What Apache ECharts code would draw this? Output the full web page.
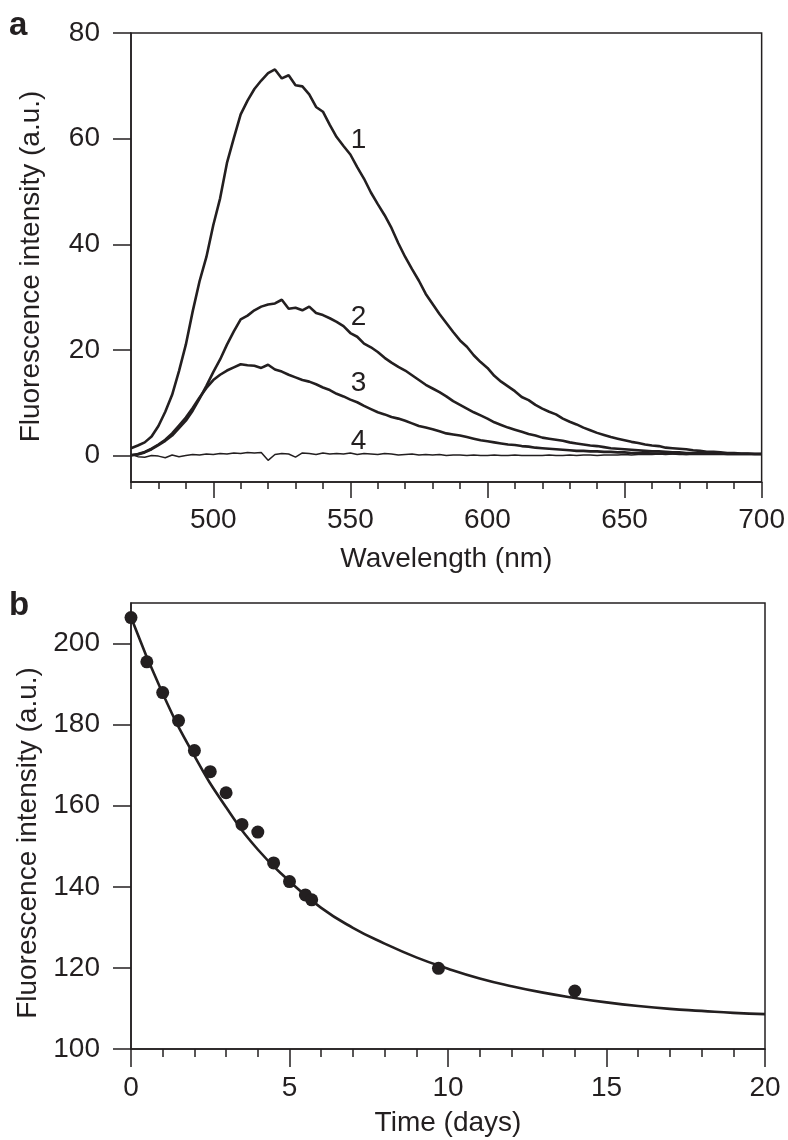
<!DOCTYPE html>
<html>
<head>
<meta charset="utf-8">
<script src="https://cdn.jsdelivr.net/npm/echarts@6/dist/echarts.min.js"></script>
<style>
html,body{margin:0;padding:0;background:#fff;}
#chart{width:788px;height:1140px;}
</style>
</head>
<body>
<div id="chart"></div>
<script>
// ---------- Panel a data ----------
var wavelengths = [
470,472.5,475,477.5,480,482.5,485,487.5,490,492.5,
495,497.5,500,502.5,505,507.5,510,512.5,515,517.5,
520,522.5,525,527.5,530,532.5,535,537.5,540,542.5,
545,547.5,550,552.5,555,557.5,560,562.5,565,567.5,
570,572.5,575,577.5,580,582.5,585,587.5,590,592.5,
595,597.5,600,602.5,605,607.5,610,612.5,615,617.5,
620,622.5,625,627.5,630,632.5,635,637.5,640,642.5,
645,647.5,650,652.5,655,657.5,660,662.5,665,667.5,
670,672.5,675,677.5,680,682.5,685,687.5,690,692.5,
695,697.5,700];
var curve1 = [
1.4,1.9,2.5,3.6,5.6,8.3,11.5,16.0,21.0,27.3,
33.0,37.6,43.6,48.7,55.4,60.1,64.6,67.2,69.4,71.0,
72.4,73.1,71.4,72.0,70.1,69.9,68.4,66.0,65.1,62.6,
60.3,58.6,57.0,54.6,52.4,49.8,47.6,45.5,43.1,40.2,
37.6,35.3,33.1,30.6,28.7,26.8,25.1,23.4,21.8,20.6,
19.0,17.7,16.6,15.1,14.0,13.1,12.2,11.1,10.5,9.6,
8.9,8.3,7.8,7.0,6.4,5.9,5.3,4.8,4.3,3.9,
3.5,3.2,2.9,2.6,2.4,2.1,1.9,1.8,1.5,1.4,
1.3,1.2,1.0,0.9,0.7,0.7,0.6,0.5,0.5,0.4,
0.4,0.3,0.3];
var curve2 = [
0.1,0.2,0.6,1.2,2.0,2.8,3.8,5.2,6.6,8.5,
10.8,13.2,15.8,18.2,21.0,23.5,25.8,26.5,27.5,28.2,
28.6,28.8,29.5,27.8,28.0,27.5,28.2,27.0,26.6,26.0,
25.3,24.5,23.2,22.5,21.2,20.5,19.6,18.5,17.6,16.8,
16.1,15.2,14.3,13.4,12.7,12.0,11.2,10.3,9.6,8.9,
8.2,7.6,7.0,6.3,5.8,5.3,4.9,4.5,4.1,3.8,
3.4,3.2,3.0,2.8,2.5,2.3,2.1,1.9,1.8,1.6,
1.4,1.3,1.2,1.1,1.0,0.9,0.8,0.8,0.7,0.6,
0.6,0.5,0.5,0.5,0.4,0.4,0.4,0.3,0.3,0.3,
0.3,0.3,0.3];
var curve3 = [
0.0,0.3,0.7,1.3,2.1,3.0,4.2,5.7,7.2,9.0,
11.0,12.8,14.3,15.3,16.1,16.7,17.3,17.1,17.0,16.6,
17.2,16.3,15.9,15.3,14.8,14.3,14.0,13.5,12.9,12.4,
11.7,11.2,10.6,10.1,9.4,8.8,8.2,7.8,7.3,7.0,
6.6,6.1,5.6,5.3,5.0,4.6,4.2,4.0,3.8,3.5,
3.2,2.9,2.7,2.5,2.3,2.1,2.0,1.8,1.7,1.5,
1.4,1.3,1.2,1.1,1.0,0.9,0.9,0.8,0.8,0.7,
0.7,0.6,0.6,0.5,0.5,0.5,0.4,0.4,0.4,0.4,
0.3,0.3,0.3,0.3,0.3,0.3,0.3,0.3,0.3,0.3,
0.3,0.3,0.3];
var curve4 = [
0.2,-0.2,-0.3,0.0,-0.1,-0.4,0.1,-0.2,0.0,0.2,
0.1,0.3,0.2,0.4,0.3,0.5,0.4,0.6,0.5,0.6,
-0.9,0.2,0.4,0.3,-0.3,0.5,0.4,0.2,0.5,0.3,
0.4,0.3,0.5,0.2,0.4,0.3,0.2,0.4,0.3,0.1,
0.2,0.3,0.1,0.2,0.1,0.2,0.0,0.1,0.1,0.0,
0.1,0.0,0.0,0.1,0.0,0.0,0.1,0.0,0.0,0.0,
0.0,0.1,0.0,0.0,0.1,0.0,0.1,0.1,0.0,0.1,
0.1,0.1,0.2,0.1,0.2,0.2,0.2,0.3,0.2,0.3,
0.3,0.2,0.3,0.3,0.3,0.3,0.3,0.3,0.3,0.3,
0.3,0.3,0.3];
var curveLabels = ['1','2','3','4'];
var curveLabelX = [553, 553, 553, 553];
var curveLabelY = [59.7, 26.1, 13.6, 2.7];
var aXTickLabels = [500, 550, 600, 650, 700];
var aYTickLabels = [0, 20, 40, 60, 80];

// ---------- Panel b data ----------
var days = [0, 0.5, 1, 1.5, 2, 2.5, 3, 3.5, 4, 4.5, 5, 5.5, 5.7, 9.7, 14];
var intensity = [206.4, 195.5, 187.9, 181.0, 173.6, 168.4, 163.2, 155.4, 153.5, 145.9, 141.3, 138.0, 136.8, 119.9, 114.3];
var fitDays = [0,1,2,3,4,5,6,7,8,9,10,11,12,13,14,15,16,17,18,19,20];
var fitValues = [206.5,187.7,172.3,159.6,149.2,141.4,134.8,129.9,126.0,122.6,119.8,117.4,115.5,113.9,112.6,111.5,110.6,109.9,109.4,108.9,108.6];
var bXTickLabels = [0, 5, 10, 15, 20];
var bYTickLabels = [100, 120, 140, 160, 180, 200];

// ---------- build ----------
function zip(xs, ys){ return xs.map(function(x,i){ return [x, ys[i]]; }); }
var INK = '#231f20';
var FONT = 'Liberation Sans, Arial, Helvetica, sans-serif';
var FS = 28;

var chart = echarts.init(document.getElementById('chart'), null, {renderer:'canvas'});

function lineSeries(data, w, xi, yi, smooth){
  return {type:'line', data:data, xAxisIndex:xi, yAxisIndex:yi, showSymbol:false, symbol:'none',
    smooth:!!smooth, lineStyle:{color:INK, width:w, opacity:1}, silent:true, animation:false, z:3};
}

var option = {
  backgroundColor:'#fff',
  animation:false,
  title:[
    {text:'a', left:4, top:4, textStyle:{fontFamily:FONT, fontWeight:'bold', fontSize:33, color:INK}},
    {text:'b', left:4, top:584, textStyle:{fontFamily:FONT, fontWeight:'bold', fontSize:33, color:INK}}
  ],
  grid:[
    {left:131, right:24, top:33, height:449, show:true, borderColor:INK, borderWidth:1.5, backgroundColor:'transparent'},
    {left:131, right:23, top:603, height:446, show:true, borderColor:INK, borderWidth:1.5, backgroundColor:'transparent'}
  ],
  xAxis:[
    {type:'value', gridIndex:0, position:'bottom', min:470, max:700, interval:10,
     name:'Wavelength (nm)', nameLocation:'middle', nameGap:63,
     nameTextStyle:{fontFamily:FONT, fontSize:FS, color:INK},
     axisLine:{show:true, onZero:false, lineStyle:{color:INK, width:1.5}},
     axisTick:{show:true, inside:false, length:7, lineStyle:{color:INK, width:1.5}},
     axisLabel:{show:true, customValues:aXTickLabels, margin:24, fontFamily:FONT, fontSize:FS, color:INK},
     splitLine:{show:false}},
    {type:'value', gridIndex:0, position:'bottom', offset:0, min:470, max:700, interval:10,
     axisLine:{show:false, onZero:false},
     axisTick:{show:true, inside:false, length:16, customValues:aXTickLabels, lineStyle:{color:INK, width:1.5}},
     axisLabel:{show:false}, splitLine:{show:false}},
    {type:'value', gridIndex:1, position:'bottom', min:0, max:20, interval:1,
     name:'Time (days)', nameLocation:'middle', nameGap:60,
     nameTextStyle:{fontFamily:FONT, fontSize:FS, color:INK},
     axisLine:{show:true, onZero:false, lineStyle:{color:INK, width:1.5}},
     axisTick:{show:true, inside:false, length:8, lineStyle:{color:INK, width:1.5}},
     axisLabel:{show:true, customValues:bXTickLabels, margin:25, fontFamily:FONT, fontSize:FS, color:INK},
     splitLine:{show:false}},
    {type:'value', gridIndex:1, position:'bottom', offset:0, min:0, max:20, interval:1,
     axisLine:{show:false, onZero:false},
     axisTick:{show:true, inside:false, length:18, customValues:bXTickLabels, lineStyle:{color:INK, width:1.5}},
     axisLabel:{show:false}, splitLine:{show:false}}
  ],
  yAxis:[
    {type:'value', gridIndex:0, position:'left', min:-5, max:80,
     name:'Fluorescence intensity (a.u.)', nameLocation:'middle', nameGap:86,
     nameTextStyle:{fontFamily:FONT, fontSize:FS, color:INK, padding:[0,18,0,0]},
     axisLine:{show:true, onZero:false, lineStyle:{color:INK, width:1.5}},
     axisTick:{show:true, inside:false, length:18, customValues:aYTickLabels, lineStyle:{color:INK, width:1.5}},
     axisLabel:{show:true, customValues:aYTickLabels, margin:31, fontFamily:FONT, fontSize:FS, color:INK},
     splitLine:{show:false}},
    {type:'value', gridIndex:1, position:'left', min:100, max:210,
     name:'Fluorescence intensity (a.u.)', nameLocation:'middle', nameGap:86,
     nameTextStyle:{fontFamily:FONT, fontSize:FS, color:INK, padding:[0,34,0,0]},
     axisLine:{show:true, onZero:false, lineStyle:{color:INK, width:1.5}},
     axisTick:{show:true, inside:false, length:18, customValues:bYTickLabels, lineStyle:{color:INK, width:1.5}},
     axisLabel:{show:true, customValues:bYTickLabels, margin:31, fontFamily:FONT, fontSize:FS, color:INK},
     splitLine:{show:false}}
  ],
  series:[
    lineSeries(zip(wavelengths, curve1), 2.6, 0, 0),
    lineSeries(zip(wavelengths, curve2), 2.6, 0, 0),
    lineSeries(zip(wavelengths, curve3), 2.6, 0, 0),
    lineSeries(zip(wavelengths, curve4), 1.5, 0, 0),
    {type:'scatter', xAxisIndex:0, yAxisIndex:0, symbolSize:0, silent:true, z:4,
     itemStyle:{opacity:1},
     data: curveLabels.map(function(t,i){ return {name:t, value:[curveLabelX[i], curveLabelY[i]]}; }),
     label:{show:true, position:'inside', formatter:'{b}', fontFamily:FONT, fontSize:FS, color:INK, opacity:1}},
    lineSeries(zip(fitDays, fitValues), 2.6, 2, 1, true),
    {type:'scatter', xAxisIndex:2, yAxisIndex:1, symbol:'circle', symbolSize:13, silent:true, z:5,
     itemStyle:{color:INK, opacity:1}, data: zip(days, intensity)}
  ]
};
chart.setOption(option);
</script>
</body>
</html>
